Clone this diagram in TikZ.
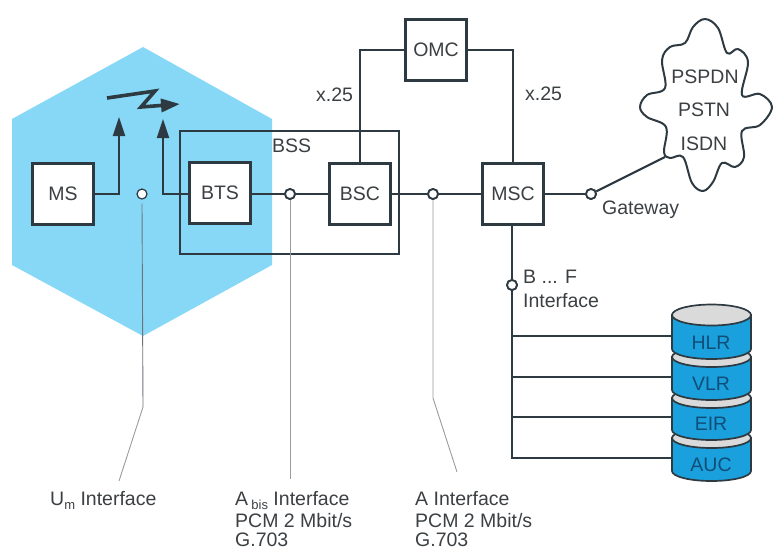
\documentclass[tikz,border=0pt]{standalone}
\usepackage{fontspec}
\setmainfont{Liberation Sans}
\usetikzlibrary{arrows.meta}
\definecolor{hexblue}{HTML}{87D8F7}
\definecolor{cylblue}{HTML}{1AA0DC}
\definecolor{cyltop}{HTML}{DADADA}
\definecolor{ink}{HTML}{2E3A42}
\definecolor{txt}{HTML}{3C4043}
\definecolor{cyltxt}{HTML}{104E78}
\definecolor{lead}{HTML}{9A9A9A}
\newcommand{\cylinderpart}[3]{%
  \filldraw[cylline,fill=cylblue] (672,#1) -- (672,#2) arc[start angle=180,end angle=0,x radius=39.5,y radius=10] -- (751,#1) -- cycle;
  \filldraw[cylline,fill=cyltop] (711.5,#1) ellipse[x radius=39.5,y radius=#3];
}
\tikzset{
  x=1pt,y=-1pt,
  lbl/.style={font=\fontsize{19.5}{22}\selectfont,text=txt,inner sep=0pt},
  box/.style={draw=ink,line width=2.1pt,fill=white,minimum width=61pt,minimum height=61pt,inner sep=0pt,font=\fontsize{19.5}{22}\selectfont,text=txt},
  conn/.style={draw=ink,line width=2.1pt},
  port/.style={circle,draw=ink,line width=1.8pt,fill=white,minimum size=10pt,inner sep=0pt},
  leader/.style={draw=lead,line width=0.9pt},
  cylline/.style={draw=ink,line width=1.7pt},
  cyllbl/.style={font=\fontsize{19.5}{22}\selectfont,text=cyltxt,inner sep=0pt},
  upar/.style={conn,-{Triangle[length=19pt,width=12pt]}},
}
\begin{document}
\begin{tikzpicture}
\useasboundingbox (0,0) rectangle (773,550);
% cell
\fill[hexblue] (143,47) -- (272,119) -- (272,265) -- (143,336) -- (12,265) -- (12,119) -- cycle;
% BSS frame
\draw[conn] (180,131) rectangle (399,254);
% radio symbol
\draw[ink,line width=3.6pt,line join=miter,-{Triangle[length=19pt,width=13pt]}] (107,98) -- (155,91) -- (141,107) -- (180,104);
% boxes
\node[box] (ms) at (63,194) {MS};
\node[box] (bts) at (220,193) {BTS};
\node[box] (bsc) at (360,194) {BSC};
\node[box] (omc) at (436,50) {OMC};
\node[box] (msc) at (513,194) {MSC};
% ports
\node[port,line width=1.2pt] (um) at (142,194) {};
\node[port] (abis) at (290,194) {};
\node[port] (aif) at (433,194) {};
\node[port] (gw) at (591,194) {};
\node[port] (bf) at (512,285) {};
% cloud
\filldraw[draw=ink,fill=white,line width=2pt] plot[smooth cycle,tension=0.6] coordinates {
(685,43) (693,27) (705,19) (718,28) (727,53) (738,49) (748,62) (742,95) (760,94) (772,107) (760,125) (742,131) (744,157) (735,167) (722,163) (713,182) (703,191) (692,183) (683,157) (670,158) (664,152) (666,127) (647,117) (640,107) (647,95) (665,88) (662,60) (670,47)};
\coordinate (cloudgw) at (665,157);
\node[lbl] (pspdn) at (705,77) {PSPDN};
\node[lbl] (pstn) at (704,110) {PSTN};
\node[lbl] (isdn) at (704,144) {ISDN};
% connectors
\draw[upar] (ms.east) -| (119,117);
\draw[upar] (abis-|bts.west) -| (163,119);
\draw[conn] (abis-|bts.east) -- (abis) -- (bsc);
\draw[conn] (bsc) -- (aif) -- (msc);
\draw[conn] (msc) -- (gw);
\draw[conn] (gw) -- (cloudgw);
\draw[conn] (omc.west) -| (bsc.north);
\draw[conn] (omc.east) -| (msc.north);
\node[port] at (gw) {};
\node[port] at (abis) {};
\node[port] at (aif) {};
\node[box] at (msc) {MSC};
\node[box] at (bsc) {BSC};
\node[box] at (bts) {BTS};
% database stack
\cylinderpart{438}{471}{10}
\cylinderpart{398}{430}{10}
\cylinderpart{357}{390}{10}
\cylinderpart{315}{349}{10.5}
\node[cyllbl] (hlr) at (711,343) {HLR};
\node[cyllbl] (vlr) at (711,384) {VLR};
\node[cyllbl] (eir) at (711,424) {EIR};
\node[cyllbl] (auc) at (711,465) {AUC};
\coordinate (hl) at (672,336);
\coordinate (vl) at (672,377);
\coordinate (el) at (672,417);
\coordinate (al) at (672,458);
\draw[conn] (bf|-msc.south) -- (bf) -- (bf|-al) -- (al);
\draw[conn] (bf|-hl) -- (hl);
\draw[conn] (bf|-vl) -- (vl);
\draw[conn] (bf|-el) -- (el);
\node[port] at (bf) {};
% leaders
\coordinate (umend) at (119,481);
\coordinate (umbend) at (143,407);
\coordinate (abisend) at (290,479);
\coordinate (aifend) at (457,472);
\coordinate (aifbend) at (433,398);
\draw[leader,draw=ink!70] (um.south) ++(0,4) -- (umbend);
\draw[leader] (umbend) -- (umend);
\draw[leader] (abis.south) -- (abisend);
\draw[leader] (aif.south) -- (aifbend) -- (aifend);
% labels
\node[lbl,anchor=base west] (x1) at (316,101) {x.25};
\node[lbl,anchor=base west] (x2) at (525,100) {x.25};
\node[lbl,anchor=base west] (bss) at (272,152) {BSS};
\node[lbl,anchor=base west] (gwl) at (602,214) {Gateway};
\node[lbl,anchor=base west] (bfl1) at (523,283) {B ... F};
\node[lbl,anchor=base west] (bfl2) at (523,307) {Interface};
\node[lbl,anchor=base west] (uml) at (50,505) {U\raisebox{-4pt}{\fontsize{13}{13}\selectfont m} Interface};
\node[lbl,anchor=base west] (ab1) at (235,505) {A\,\raisebox{-4pt}{\fontsize{13}{13}\selectfont bis} Interface};
\node[lbl,anchor=base west] (ab2) at (235,527) {PCM 2 Mbit/s};
\node[lbl,anchor=base west] (ab3) at (235,546) {G.703};
\node[lbl,anchor=base west] (a1) at (415,505) {A Interface};
\node[lbl,anchor=base west] (a2) at (415,527) {PCM 2 Mbit/s};
\node[lbl,anchor=base west] (a3) at (415,546) {G.703};
\end{tikzpicture}
\end{document}
